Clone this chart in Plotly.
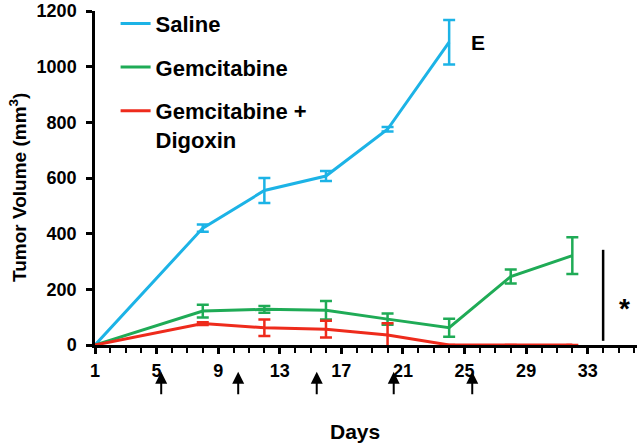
import plotly.graph_objects as go

# ---- data ----
saline_days = [1, 8, 12, 16, 20, 24]
saline_vol = [0, 420, 555, 607, 775, 1088]
saline_err = [0, 13, 45, 18, 8, 80]

gem_days = [1, 8, 12, 16, 20, 24, 28, 32]
gem_vol = [0, 122, 128, 125, 93, 62, 246, 321]
gem_err = [0, 23, 12, 33, 20, 32, 25, 66]

combo_days = [1, 8, 12, 16, 20, 24, 28, 32]
combo_vol = [0, 77, 62, 57, 36, 0, 0, 0]
combo_err = [0, 5, 30, 30, 42, 0, 0, 0]

series_names = ["Saline", "Gemcitabine", "Gemcitabine +<br>Digoxin"]
series_colors = ["#1cb3e6", "#1fab56", "#ee2b1c"]

treatment_days = [5.3, 10.3, 15.4, 20.4, 25.5]
sig_x = 34
sig_y = [15, 342]

x_ticks = [1, 5, 9, 13, 17, 21, 25, 29, 33]
y_ticks = [0, 200, 400, 600, 800, 1000, 1200]

FONT = "Liberation Sans, Arial, Helvetica, sans-serif"

fig = go.Figure()
for name, days, vals, errs, col, grp in zip(
        series_names,
        [saline_days, gem_days, combo_days],
        [saline_vol, gem_vol, combo_vol],
        [saline_err, gem_err, combo_err],
        series_colors, ["a", "b", "c"]):
    fig.add_trace(go.Scatter(
        x=days, y=vals, mode="lines", name=name, legendgroup=grp,
        line=dict(color=col, width=3),
        error_y=dict(type="data", array=errs, visible=True, color=col,
                     thickness=2.5, width=6),
        cliponaxis=False,
    ))

# significance bar
fig.add_shape(type="line", xref="x", yref="y", x0=sig_x, x1=sig_x,
              y0=sig_y[0], y1=sig_y[1], line=dict(color="black", width=2.5))

fig.add_annotation(x=35.4, y=130, xref="x", yref="y", text="<b>*</b>",
                   showarrow=False, font=dict(family=FONT, size=28, color="black"))
fig.add_annotation(x=25.9, y=1088, xref="x", yref="y", text="<b>E</b>",
                   showarrow=False, font=dict(family=FONT, size=21, color="black"))

# axis titles
fig.add_annotation(x=0.48, y=-0.259, xref="paper", yref="paper",
                   xanchor="center", yanchor="middle",
                   text="<b>Days</b>", showarrow=False,
                   font=dict(family=FONT, size=21, color="black"))
fig.add_annotation(x=-0.142, y=0.47, xref="paper", yref="paper",
                   xanchor="center", yanchor="middle",
                   text="<b>Tumor Volume (mm<sup>3</sup>)</b>", textangle=-90,
                   showarrow=False, font=dict(family=FONT, size=19, color="black"))

for d in treatment_days:
    fig.add_annotation(x=d, xref="x", y=-0.08, yref="paper", text="",
                       showarrow=True, ax=0, ay=24, axref="pixel", ayref="pixel",
                       arrowhead=2, arrowsize=1.2, arrowwidth=2, arrowcolor="black")

fig.update_layout(
    width=640, height=447,
    margin=dict(l=95, r=3, t=9, b=102),
    paper_bgcolor="white", plot_bgcolor="white",
    font=dict(family=FONT, color="black"),
    showlegend=True,
    legend=dict(x=0.038, y=1.025, xanchor="left", yanchor="top",
                bgcolor="rgba(0,0,0,0)", traceorder="grouped",
                tracegroupgap=12, valign="top",
                font=dict(family=FONT, size=22, color="black", weight="bold")),
    xaxis=dict(range=[1, 36.2], tickmode="array", tickvals=x_ticks,
               ticktext=[str(t) for t in x_ticks],
               showgrid=False, zeroline=False, showline=True,
               linecolor="black", linewidth=2.5, ticks="outside",
               ticklen=6, tickwidth=2.5, tickcolor="black",
               minor=dict(dtick=1, tick0=1, ticklen=5, tickwidth=2,
                          tickcolor="black", ticks="outside", showgrid=False),
               tickfont=dict(family=FONT, size=18, weight="bold"),
               ticklabelstandoff=2, automargin=False,
               layer="below traces"),
    yaxis=dict(range=[0, 1200], tickmode="array", tickvals=y_ticks,
               showgrid=False, zeroline=False, showline=True,
               linecolor="black", linewidth=2.5, ticks="outside",
               ticklen=6, tickwidth=2.5, tickcolor="black",
               tickfont=dict(family=FONT, size=18, weight="bold"),
               ticklabelstandoff=6, automargin=False,
               layer="below traces"),
)

fig.write_html("out.html", config={"displayModeBar": False},
               post_script="document.body.style.margin='0px';")
